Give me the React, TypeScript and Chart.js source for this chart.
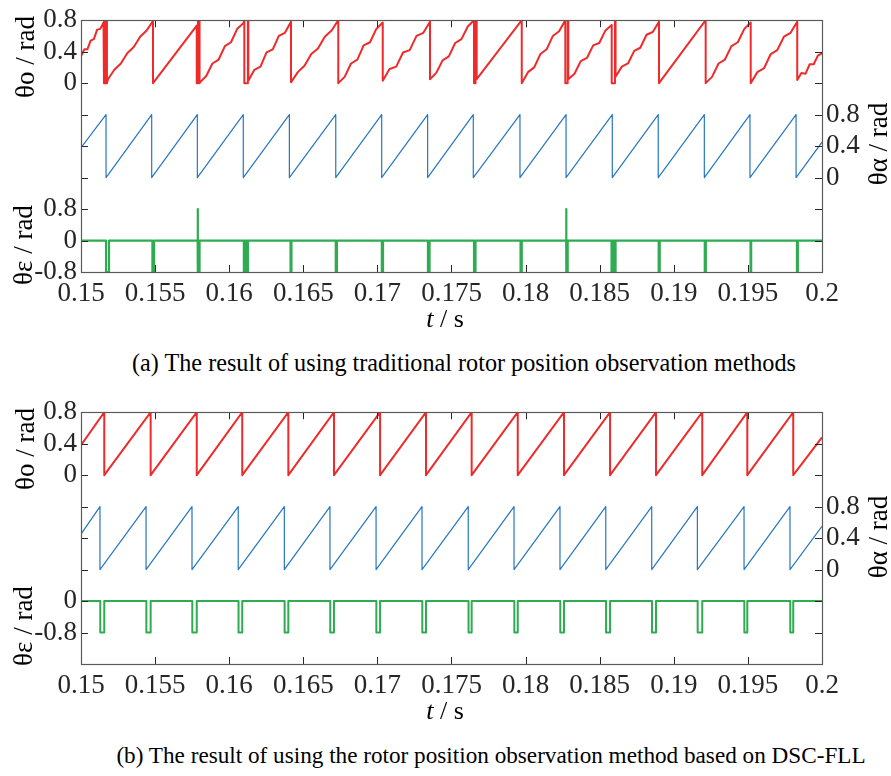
import React, { useEffect, useRef } from 'react';
import { Chart, registerables } from 'chart.js';
Chart.register(...registerables);
Chart.defaults.font.family = "'Liberation Serif', serif";

type Pt = [number, number];

// ---------- shared axis data ----------
const X_MIN = 0.15;
const X_MAX = 0.2;
const xTickValues = [0.15, 0.155, 0.16, 0.165, 0.17, 0.175, 0.18, 0.185, 0.19, 0.195, 0.2];
const xTickLabels = ['0.15', '0.155', '0.16', '0.165', '0.17', '0.175', '0.18', '0.185', '0.19', '0.195', '0.2'];

// left axis is split: red (upper half), green (lower half)
const redTickValues = [-0.8, -0.4, 0, 0.4, 0.8];
const redTickLabels = ['', '', '0', '0.4', '0.8'];
const blueTickValues = [-1.2, -0.8, -0.4, 0, 0.4, 0.8, 1.2, 1.6, 2.0];
const blueTickLabels = ['', '', '', '0', '0.4', '0.8', '', '', ''];
const greenTickValuesA = [-0.8, 0, 0.8, 1.6, 2.4];
const greenTickLabelsA = ['-0.8', '0', '0.8', '', ''];
const greenTickValuesB = [-1.6, -0.8, 0, 0.8, 1.6];
const greenTickLabelsB = ['', '-0.8', '0', '', ''];

const PEAK = 0.8;

// ---------- panel (a) ----------
const redA: Pt[] = [
  [0.15, 0.34], [0.15022, 0.43], [0.15043, 0.43], [0.15065, 0.54], [0.15087, 0.56], [0.15109, 0.68], [0.1513, 0.69],
  [0.15152, 0.77], [0.15155, 0.8], [0.15155, 0], [0.15165, 0], [0.15165, 0.8], [0.15175, 0.8], [0.15175, 0], [0.15182, 0.05],
  [0.15225, 0.17], [0.15269, 0.25], [0.15312, 0.38], [0.15356, 0.46], [0.15399, 0.59], [0.15443, 0.67],
  [0.15486, 0.79], [0.15486, 0],
  [0.15781, 0.73], [0.15781, 0], [0.15789, 0], [0.15789, 0.8], [0.158, 0.8], [0.158, 0], [0.15803, 0.01],
  [0.15845, 0.09], [0.15887, 0.25], [0.15929, 0.3], [0.15971, 0.47], [0.16012, 0.52], [0.16054, 0.69],
  [0.16096, 0.76], [0.16102, 0.8], [0.16102, 0], [0.16126, 0], [0.16126, 0.8], [0.16129, 0.8], [0.16129, 0.03],
  [0.1617, 0.17], [0.16211, 0.21], [0.16252, 0.39], [0.16294, 0.43], [0.16335, 0.6], [0.16376, 0.64],
  [0.16417, 0.78], [0.16417, 0.01],
  [0.16463, 0.14], [0.16508, 0.22], [0.16554, 0.37], [0.16599, 0.44], [0.16645, 0.59], [0.16691, 0.67],
  [0.16736, 0.8], [0.16736, 0],
  [0.16779, 0.08], [0.16822, 0.25], [0.16865, 0.3], [0.16907, 0.48], [0.1695, 0.52], [0.16993, 0.69],
  [0.17036, 0.77], [0.17036, 0.03],
  [0.17082, 0.18], [0.17127, 0.21], [0.17173, 0.39], [0.17218, 0.42], [0.17264, 0.6], [0.1731, 0.64],
  [0.17355, 0.78], [0.17355, 0.05],
  [0.17397, 0.13], [0.1744, 0.29], [0.17482, 0.34], [0.17525, 0.51], [0.17567, 0.56], [0.1761, 0.72],
  [0.17652, 0.8], [0.17652, 0], [0.17662, 0], [0.17662, 0.8], [0.1767, 0.8], [0.1767, 0.05],
  [0.17974, 0.8], [0.17974, 0],
  [0.18016, 0.14], [0.18058, 0.2], [0.181, 0.37], [0.18142, 0.43], [0.18184, 0.6], [0.18226, 0.66],
  [0.18268, 0.8], [0.18268, 0], [0.18284, 0], [0.18284, 0.8], [0.18288, 0.8], [0.18288, 0.05],
  [0.1833, 0.12], [0.18372, 0.28], [0.18414, 0.32], [0.18456, 0.48], [0.18497, 0.51], [0.18539, 0.67],
  [0.18581, 0.74], [0.18581, 0], [0.18603, 0], [0.18603, 0.8], [0.18607, 0.8], [0.18607, 0.08],
  [0.18649, 0.21], [0.18691, 0.25], [0.18733, 0.41], [0.18774, 0.45], [0.18816, 0.615], [0.18858, 0.65],
  [0.189, 0.78], [0.189, 0],
  [0.19215, 0.8], [0.19215, 0],
  [0.19258, 0.08], [0.19302, 0.25], [0.19345, 0.3], [0.19389, 0.47], [0.19432, 0.52], [0.19476, 0.69],
  [0.19519, 0.77], [0.19519, 0],
  [0.19564, 0.14], [0.19609, 0.19], [0.19654, 0.37], [0.19698, 0.42], [0.19743, 0.59], [0.19788, 0.64],
  [0.19833, 0.78], [0.19833, 0.04],
  [0.19861, 0.13], [0.19889, 0.12], [0.19917, 0.24], [0.19944, 0.24], [0.19972, 0.35],
  [0.2, 0.38],
];

const blueA_start = 0.38;
const blueA_drops = [0.15169, 0.15477, 0.15785, 0.16095, 0.16406, 0.16719, 0.17029, 0.17339, 0.17647, 0.17962, 0.18273, 0.18585, 0.18895, 0.19206, 0.19514, 0.19825];
const blueA_end = 0.45;

const greenA: Pt[] = [
  [0.15, 0],
  [0.15169, 0], [0.15169, -0.8], [0.15189, -0.8], [0.15189, 0],
  [0.15482, 0], [0.15482, -0.8], [0.15493, -0.8], [0.15493, 0],
  [0.15787, 0], [0.15787, 0.8], [0.15788, 0],
  [0.15789, 0], [0.15789, -0.8], [0.158, -0.8], [0.158, 0],
  [0.16099, 0], [0.16099, -0.8], [0.16105, -0.8], [0.16105, 0],
  [0.16119, 0], [0.16119, -0.8], [0.16126, -0.8], [0.16126, 0],
  [0.16414, 0], [0.16414, -0.8], [0.1642, -0.8], [0.1642, 0],
  [0.16719, 0], [0.16719, -0.8], [0.16727, -0.8], [0.16727, 0],
  [0.1703, 0], [0.1703, -0.8], [0.17038, -0.8], [0.17038, 0],
  [0.17341, 0], [0.17341, -0.8], [0.17352, -0.8], [0.17352, 0],
  [0.17652, 0], [0.17652, -0.8], [0.17662, -0.8], [0.17662, 0],
  [0.17966, 0], [0.17966, -0.8], [0.17974, -0.8], [0.17974, 0],
  [0.18274, 0], [0.18274, 0.8], [0.18275, 0],
  [0.18275, 0], [0.18275, -0.8], [0.18284, -0.8], [0.18284, 0],
  [0.1858, 0], [0.1858, -0.8], [0.18585, -0.8], [0.18585, 0],
  [0.186, 0], [0.186, -0.8], [0.18607, -0.8], [0.18607, 0],
  [0.18898, 0], [0.18898, -0.8], [0.18905, -0.8], [0.18905, 0],
  [0.19209, 0], [0.19209, -0.8], [0.19216, -0.8], [0.19216, 0],
  [0.19518, 0], [0.19518, -0.8], [0.19522, -0.8], [0.19522, 0],
  [0.19831, 0], [0.19831, -0.8], [0.19837, -0.8], [0.19837, 0],
  [0.2, 0],
];

// ---------- panel (b) ----------
const redB_start = 0.38;
const redB_drops = [0.15157, 0.1547, 0.15781, 0.16088, 0.16399, 0.16707, 0.17018, 0.17328, 0.17636, 0.17947, 0.18259, 0.1857, 0.1888, 0.19192, 0.19496, 0.19806];
const redB_end = 0.48;

const blueB_start = 0.45;
const blueB_drops = [0.15128, 0.15439, 0.15749, 0.16061, 0.16372, 0.1668, 0.16991, 0.17301, 0.17613, 0.17922, 0.18232, 0.18541, 0.18851, 0.19159, 0.19474, 0.19784];
const blueB_end = 0.55;

const greenB_pulseStart = [0.1513, 0.15441, 0.15751, 0.16063, 0.16374, 0.16682, 0.16993, 0.17303, 0.17615, 0.17924, 0.18234, 0.18543, 0.18853, 0.19161, 0.19476, 0.19786];
const greenB_pulseEnd = [0.15157, 0.1547, 0.15781, 0.16088, 0.16399, 0.16707, 0.17018, 0.17328, 0.17636, 0.17947, 0.18259, 0.1857, 0.1888, 0.19192, 0.19496, 0.19806];
const greenB_level = -0.8;

// ---------- styles ----------
const RED = '#ee2a2a';
const BLUE = '#2676c0';
const GREEN = '#2fab52';
const AXIS_COLOR = '#262626';
const FRAME_COLOR = '#5a5a5a';
const SERIF = "'Liberation Serif', serif";
const TICK_FONT = { family: SERIF, size: 27, weight: 'normal' };
const TICK_LEN = 7;

const toXY = (pts: Pt[]) => pts.map(([x, y]) => ({ x, y }));

function sawtooth(start: number, drops: number[], end: number) {
  const pts: { x: number; y: number }[] = [{ x: X_MIN, y: start }];
  drops.forEach((t) => {
    pts.push({ x: t, y: PEAK });
    pts.push({ x: t, y: 0 });
  });
  pts.push({ x: X_MAX, y: end });
  return pts;
}

function pulses(starts: number[], ends: number[], level: number) {
  const pts: { x: number; y: number }[] = [{ x: X_MIN, y: 0 }];
  starts.forEach((s, i) => {
    pts.push({ x: s, y: 0 }, { x: s, y: level }, { x: ends[i], y: level }, { x: ends[i], y: 0 });
  });
  pts.push({ x: X_MAX, y: 0 });
  return pts;
}

const framePlugin = {
  id: 'frame',
  afterDatasetsDraw(chart: any) {
    const { ctx, chartArea } = chart;
    const { left, right, top, bottom } = chartArea;
    ctx.save();
    ctx.strokeStyle = AXIS_COLOR;
    ctx.lineWidth = 1;
    ctx.beginPath();
    const xs = chart.scales.x;
    xs.ticks.forEach((_t: any, i: number) => {
      const p = Math.round(xs.getPixelForTick(i)) + 0.5;
      ctx.moveTo(p, bottom);
      ctx.lineTo(p, bottom - TICK_LEN);
      ctx.moveTo(p, top);
      ctx.lineTo(p, top + TICK_LEN);
    });
    ['yR', 'yG'].forEach((id) => {
      const s = chart.scales[id];
      s.ticks.forEach((_t: any, i: number) => {
        const p = Math.round(s.getPixelForTick(i)) + 0.5;
        ctx.moveTo(left, p);
        ctx.lineTo(left + TICK_LEN, p);
      });
    });
    const yr = chart.scales.yB;
    yr.ticks.forEach((_t: any, i: number) => {
      const p = Math.round(yr.getPixelForTick(i)) + 0.5;
      ctx.moveTo(right, p);
      ctx.lineTo(right - TICK_LEN, p);
    });
    ctx.stroke();
    ctx.strokeStyle = FRAME_COLOR;
    ctx.lineWidth = 1.2;
    ctx.strokeRect(Math.round(left) + 0.5, Math.round(top) + 0.5, Math.round(right - left), Math.round(bottom - top));
    ctx.restore();
  },
};

function yAxis(position: string, weight: number, min: number, max: number, values: number[], labels: string[], width: number, stack?: string) {
  return {
    type: 'linear',
    position,
    weight,
    min,
    max,
    stack,
    stackWeight: 1,
    grid: { display: false, drawTicks: false, tickLength: 0 },
    border: { display: false },
    afterBuildTicks: (s: any) => {
      s.ticks = values.map((v) => ({ value: v }));
    },
    afterFit: (s: any) => {
      s.width = width;
    },
    ticks: {
      autoSkip: false,
      padding: 4,
      color: AXIS_COLOR,
      font: TICK_FONT,
      callback: (_v: any, i: number) => labels[i],
    },
  };
}

interface PanelProps {
  datasets: any[];
  greenMin: number;
  greenMax: number;
  greenValues: number[];
  greenLabels: string[];
}

function Panel({ datasets, greenMin, greenMax, greenValues, greenLabels }: PanelProps) {
  const ref = useRef<HTMLCanvasElement | null>(null);
  useEffect(() => {
    if (!ref.current) return;
    const chart = new Chart(ref.current, {
      type: 'line',
      data: { datasets },
      plugins: [framePlugin],
      options: {
        responsive: false,
        animation: false,
        devicePixelRatio: 1,
        events: [],
        font: { family: SERIF },
        layout: { padding: { top: 13, left: 0, right: 0, bottom: 0 } },
        plugins: { legend: { display: false }, tooltip: { enabled: false }, title: { display: false } },
        elements: { point: { radius: 0 }, line: { tension: 0, borderJoinStyle: 'round', borderCapStyle: 'butt' } },
        scales: {
          x: {
            type: 'linear',
            min: X_MIN,
            max: X_MAX,
            grid: { display: false, drawTicks: false, tickLength: 0 },
            border: { display: false },
            afterBuildTicks: (s: any) => {
              s.ticks = xTickValues.map((v) => ({ value: v }));
            },
            afterFit: (s: any) => {
              s.height = 38;
            },
            ticks: {
              autoSkip: false,
              maxRotation: 0,
              minRotation: 0,
              padding: 6,
              color: AXIS_COLOR,
              font: TICK_FONT,
              callback: (_v: any, i: number) => xTickLabels[i],
            },
          },
          yR: yAxis('left', 2, -0.8, 0.8, redTickValues, redTickLabels, 81, 'L'),
          yG: yAxis('left', 1, greenMin, greenMax, greenValues, greenLabels, 81, 'L'),
          yB: yAxis('right', 0, -1.2, 2.0, blueTickValues, blueTickLabels, 69),
        } as any,
      } as any,
    });
    return () => chart.destroy();
  }, []);
  return <canvas ref={ref} width={891} height={310} style={{ display: 'block', width: 891, height: 310 }} />;
}

const rotStyle = (cx: number, cy: number): React.CSSProperties => ({
  position: 'absolute',
  left: cx,
  top: cy,
  transform: 'translate(-50%, -50%) rotate(-90deg)',
  whiteSpace: 'nowrap',
  fontFamily: SERIF,
  fontSize: 27,
  lineHeight: 1,
  color: '#000',
});

const centerStyle = (cx: number, cy: number, size: number): React.CSSProperties => ({
  position: 'absolute',
  left: cx,
  top: cy,
  transform: 'translate(-50%, -50%)',
  whiteSpace: 'nowrap',
  fontFamily: SERIF,
  fontSize: size,
  lineHeight: 1,
  color: '#000',
});

export default function App() {
  const dsA = [
    { data: toXY(redA), yAxisID: 'yR', borderColor: RED, borderWidth: 2, pointRadius: 0 },
    { data: sawtooth(blueA_start, blueA_drops, blueA_end), yAxisID: 'yB', borderColor: BLUE, borderWidth: 1.2, pointRadius: 0 },
    { data: toXY(greenA), yAxisID: 'yG', borderColor: GREEN, borderWidth: 2.2, pointRadius: 0 },
  ];
  const dsB = [
    { data: sawtooth(redB_start, redB_drops, redB_end), yAxisID: 'yR', borderColor: RED, borderWidth: 2, pointRadius: 0 },
    { data: sawtooth(blueB_start, blueB_drops, blueB_end), yAxisID: 'yB', borderColor: BLUE, borderWidth: 1.2, pointRadius: 0 },
    { data: pulses(greenB_pulseStart, greenB_pulseEnd, greenB_level), yAxisID: 'yG', borderColor: GREEN, borderWidth: 2, pointRadius: 0 },
  ];
  return (
    <div style={{ position: 'fixed', left: 0, top: 0, width: 891, height: 776, background: '#fff', overflow: 'hidden' }}>
      <div style={{ position: 'absolute', left: 0, top: 0 }}>
        <Panel datasets={dsA} greenMin={-0.8} greenMax={2.4} greenValues={greenTickValuesA} greenLabels={greenTickLabelsA} />
      </div>
      <div style={{ position: 'absolute', left: 0, top: 392 }}>
        <Panel datasets={dsB} greenMin={-1.6} greenMax={1.6} greenValues={greenTickValuesB} greenLabels={greenTickLabelsB} />
      </div>
      <div style={rotStyle(25, 57)}>θo / rad</div>
      <div style={rotStyle(23, 245)}>θε / rad</div>
      <div style={rotStyle(878, 144)}>θα / rad</div>
      <div style={centerStyle(445, 319, 26)}><i>t</i> / s</div>
      <div style={centerStyle(464, 363, 24.2)}>(a) The result of using traditional rotor position observation methods</div>
      <div style={rotStyle(25, 449)}>θo / rad</div>
      <div style={rotStyle(23, 626)}>θε / rad</div>
      <div style={rotStyle(878, 537)}>θα / rad</div>
      <div style={centerStyle(445, 711, 26)}><i>t</i> / s</div>
      <div style={centerStyle(491, 756, 23.2)}>(b) The result of using the rotor position observation method based on DSC-FLL</div>
    </div>
  );
}
